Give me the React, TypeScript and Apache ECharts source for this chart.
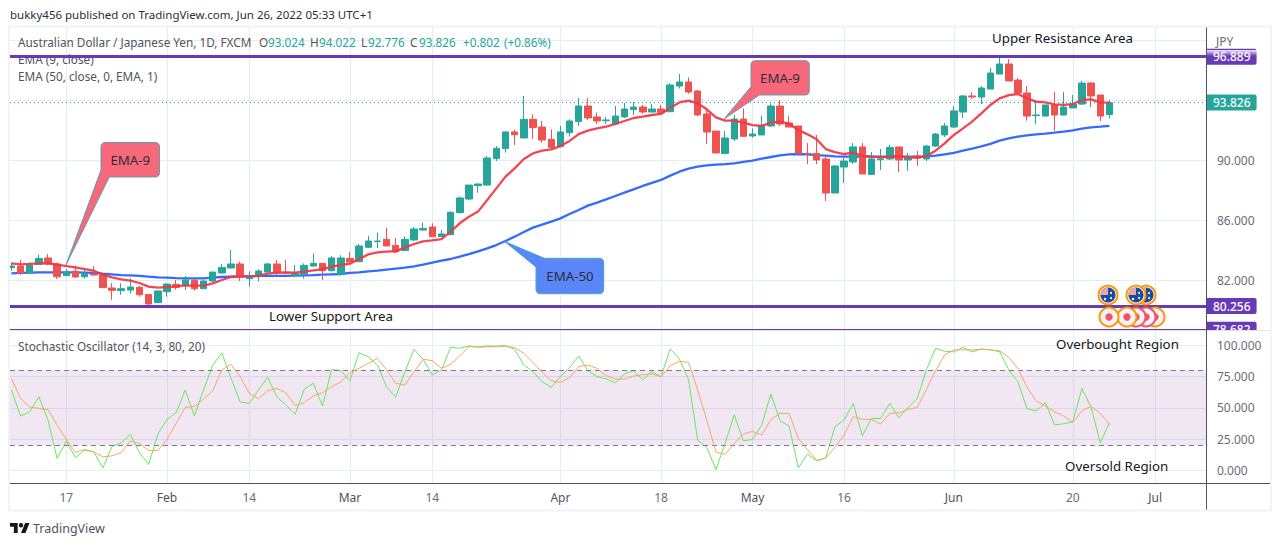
import React, { useEffect, useRef } from "react";
import * as echarts from "echarts";

const FONT = "'Noto Sans', sans-serif";
const UP = "#26a69a";
const DOWN = "#ef5350";
const PURPLE = "#673ab7";

// trading-day index of each time-axis label
const tickIndex = [6, 17, 26, 37, 46, 60, 71, 81, 91, 103, 116, 125];
const tickLabels = ["17", "Feb", "14", "Mar", "14", "Apr", "18", "May", "16", "Jun", "20", "Jul"];
const monthLabels = ["Feb", "Mar", "Apr", "May", "Jun", "Jul"];

const priceGrid = [82, 86, 90, 94, 98];
const priceLabels = [82, 86, 90];
const stochTicks = [0, 25, 50, 75, 100];

const upperLevel = 96.889;
const lowerLevel = 80.256;
const bottomLevel = 78.682;
const lastPrice = 93.826;

// open, close, low, high
const candles = [
  [82.82, 82.93, 82.62, 83.16], [82.93, 82.47, 82.33, 83.33], [82.47, 83.0, 82.47, 83.18], [83.04, 83.44, 83.04, 83.69], [83.47, 83.07, 83.0, 83.73],
  [83.07, 82.22, 82.07, 83.16], [82.29, 82.53, 82.27, 82.73], [82.58, 82.2, 82.16, 82.93], [82.22, 82.42, 82.09, 82.76], [82.4, 82.33, 82.31, 82.93],
  [82.33, 81.49, 81.49, 82.38], [81.47, 81.31, 80.67, 81.78], [81.29, 81.42, 81.02, 81.78], [81.33, 81.53, 81.09, 82.11], [81.51, 81.02, 80.89, 81.6],
  [81.04, 80.4, 80.36, 81.04], [80.49, 81.27, 80.49, 81.27], [81.22, 81.73, 80.89, 81.78], [81.71, 81.51, 81.36, 82.0], [81.64, 82.0, 81.33, 82.27],
  [81.98, 81.42, 81.29, 82.11], [81.42, 81.93, 81.4, 81.98], [81.93, 82.53, 81.84, 82.53], [82.47, 82.84, 82.44, 83.07], [82.8, 83.07, 82.78, 84.0],
  [83.07, 82.22, 81.93, 83.22], [82.09, 82.22, 81.56, 82.58], [82.22, 82.6, 81.89, 82.71], [82.53, 83.07, 82.51, 83.13], [83.07, 82.47, 82.33, 83.33],
  [82.51, 82.47, 82.4, 83.33], [82.29, 82.44, 82.29, 83.0], [82.4, 82.98, 82.09, 83.11], [82.93, 83.11, 82.91, 83.78], [83.11, 82.62, 82.0, 83.11],
  [82.62, 83.47, 82.58, 83.6], [82.36, 83.47, 82.33, 83.64], [83.44, 83.2, 83.2, 83.87], [83.22, 84.27, 83.22, 84.4], [84.18, 84.6, 84.13, 84.93],
  [84.56, 84.6, 84.13, 85.16], [84.71, 84.27, 84.27, 85.47], [84.31, 83.87, 83.82, 84.8], [83.96, 84.71, 83.93, 84.89], [84.67, 85.4, 84.6, 85.53],
  [85.33, 85.44, 85.29, 85.84], [85.53, 84.89, 84.89, 85.78], [84.89, 85.07, 84.89, 85.33], [85.02, 86.51, 85.02, 86.58], [86.49, 87.47, 86.44, 87.56],
  [87.4, 88.33, 87.33, 88.33], [88.29, 88.4, 87.82, 88.44], [88.33, 90.13, 88.31, 90.27], [90.09, 90.78, 89.93, 90.93], [90.76, 91.87, 90.49, 91.91],
  [91.87, 91.69, 91.0, 92.02], [91.47, 92.71, 91.47, 94.27], [92.71, 92.16, 91.4, 93.04], [92.2, 91.33, 91.16, 92.6], [91.38, 90.84, 90.67, 92.04],
  [90.89, 91.87, 90.84, 92.27], [91.82, 92.6, 91.56, 92.71], [92.56, 93.6, 92.27, 94.13], [93.6, 92.8, 92.67, 94.13], [92.87, 92.6, 92.4, 93.16],
  [92.62, 92.67, 92.4, 92.87], [92.4, 92.93, 92.33, 93.6], [92.87, 93.4, 92.8, 93.8], [93.36, 93.53, 93.0, 93.87], [93.53, 93.2, 93.07, 93.67],
  [93.2, 93.4, 93.18, 93.73], [93.4, 93.16, 93.11, 93.67], [93.22, 95.0, 93.2, 95.11], [94.93, 95.2, 94.76, 95.73], [95.2, 94.53, 94.42, 95.51],
  [94.6, 93.0, 92.93, 94.67], [93.07, 91.87, 91.07, 93.33], [91.93, 90.47, 90.47, 91.93], [90.44, 91.47, 90.38, 91.93], [91.4, 92.73, 91.27, 93.0],
  [92.73, 91.58, 91.56, 93.44], [91.6, 91.73, 91.49, 92.11], [91.67, 92.31, 91.67, 92.96], [92.27, 93.6, 92.2, 93.78], [93.6, 92.4, 92.27, 94.0],
  [92.47, 92.2, 92.18, 92.96], [92.27, 90.44, 90.44, 92.27], [90.44, 90.4, 89.73, 91.13], [90.44, 90.0, 89.73, 91.67], [90.07, 87.8, 87.27, 90.27],
  [87.8, 89.6, 87.8, 89.67], [89.53, 89.93, 88.47, 90.13], [89.87, 90.87, 89.73, 91.13], [90.87, 89.07, 89.07, 91.13], [89.04, 90.07, 89.0, 90.53],
  [90.02, 90.07, 89.33, 90.73], [90.07, 90.84, 90.0, 91.0], [90.87, 90.0, 89.2, 90.87], [90.0, 90.22, 89.27, 90.47], [90.27, 90.13, 89.6, 90.6],
  [90.07, 90.93, 89.93, 91.0], [90.93, 91.73, 90.87, 91.8], [91.67, 92.27, 91.53, 92.47], [92.2, 93.27, 92.13, 93.6], [93.2, 94.27, 92.8, 94.33],
  [94.27, 94.2, 94.07, 94.53], [94.2, 94.8, 93.73, 94.93], [94.73, 95.8, 94.73, 96.13], [95.73, 96.4, 95.73, 96.87], [96.4, 95.27, 95.27, 96.73],
  [95.33, 94.47, 94.4, 95.47], [94.47, 92.93, 92.62, 94.93], [92.96, 93.0, 92.4, 94.0], [92.93, 93.67, 92.93, 93.67], [93.67, 93.0, 91.93, 94.53],
  [93.0, 93.53, 92.98, 94.53], [93.47, 93.73, 93.47, 94.33], [93.73, 95.13, 93.67, 95.27], [95.13, 94.27, 93.53, 95.2], [94.33, 92.93, 92.6, 94.33],
  [93.024, 93.826, 92.776, 94.022],
];

const ema9 = [
  83.11, 83.04, 83.07, 83.11, 83.11, 83.02, 82.93, 82.84, 82.73, 82.62,
  82.36, 82.18, 82.04, 81.96, 81.8, 81.56, 81.49, 81.53, 81.58, 81.64,
  81.62, 81.62, 81.78, 82.0, 82.2, 82.24, 82.24, 82.29, 82.42, 82.49,
  82.51, 82.49, 82.56, 82.64, 82.71, 82.89, 83.0, 83.09, 83.4, 83.71,
  83.84, 83.89, 83.93, 84.16, 84.4, 84.58, 84.64, 84.73, 85.22, 85.78,
  86.22, 86.56, 87.33, 88.11, 88.89, 89.44, 90.07, 90.44, 90.62, 90.71,
  90.93, 91.27, 91.73, 91.96, 92.11, 92.22, 92.4, 92.6, 92.8, 92.89,
  93.0, 93.07, 93.49, 93.84, 93.96, 93.78, 93.38, 92.84, 92.62, 92.62,
  92.49, 92.33, 92.27, 92.49, 92.56, 92.42, 92.0, 91.71, 91.38, 90.73,
  90.53, 90.4, 90.49, 90.27, 90.22, 90.18, 90.22, 90.24, 90.18, 90.16,
  90.27, 90.62, 91.11, 91.67, 92.11, 92.56, 93.11, 93.67, 94.11, 94.33,
  94.4, 94.11, 93.89, 93.84, 93.71, 93.67, 93.73, 94.0, 94.04, 93.84,
  93.82,
];

const ema50 = [
  82.44, 82.47, 82.49, 82.51, 82.51, 82.51, 82.51, 82.51, 82.49, 82.47,
  82.42, 82.38, 82.33, 82.31, 82.27, 82.22, 82.18, 82.16, 82.13, 82.11,
  82.11, 82.11, 82.16, 82.2, 82.22, 82.24, 82.24, 82.27, 82.27, 82.27,
  82.27, 82.29, 82.31, 82.33, 82.36, 82.38, 82.4, 82.47, 82.51, 82.58,
  82.62, 82.69, 82.76, 82.82, 82.91, 83.02, 83.16, 83.29, 83.4, 83.56,
  83.73, 83.91, 84.11, 84.33, 84.6, 84.89, 85.2, 85.49, 85.69, 85.89,
  86.11, 86.4, 86.67, 86.96, 87.16, 87.38, 87.6, 87.82, 88.04, 88.27,
  88.47, 88.67, 88.96, 89.22, 89.42, 89.56, 89.64, 89.69, 89.73, 89.78,
  89.87, 89.96, 90.09, 90.2, 90.31, 90.38, 90.4, 90.38, 90.33, 90.29,
  90.24, 90.22, 90.22, 90.22, 90.22, 90.22, 90.22, 90.22, 90.22, 90.22,
  90.24, 90.29, 90.38, 90.47, 90.62, 90.76, 90.91, 91.07, 91.29, 91.44,
  91.56, 91.64, 91.71, 91.76, 91.82, 91.89, 91.98, 92.09, 92.18, 92.22,
  92.27,
];

const stochK = [
  64.3, 43.5, 46.9, 58.9, 40.3, 9.6, 23.5, 10.1, 16.3, 14.9,
  2.1, 19.2, 22.1, 28.8, 14.1, 4.8, 28.8, 40.8, 46.1, 64.3,
  43.5, 64.3, 84.0, 93.9, 73.6, 54.7, 53.6, 64.3, 74.4, 58.9,
  52.3, 44.8, 64.8, 69.6, 51.5, 80.8, 79.7, 71.7, 94.1, 90.9,
  84.3, 66.9, 58.4, 78.9, 96.8, 88.8, 76.3, 80.3, 98.4, 97.6,
  99.5, 98.4, 99.5, 99.2, 99.7, 96.8, 84.3, 78.9, 70.9, 66.4,
  74.9, 82.1, 91.5, 79.7, 74.9, 73.3, 69.9, 77.1, 79.7, 72.3,
  78.9, 74.9, 97.1, 89.1, 72.8, 24.3, 18.4, 0.8, 21.6, 44.5,
  23.7, 24.8, 36.3, 61.1, 39.7, 35.5, 2.1, 13.1, 7.7, 9.9,
  34.9, 40.3, 53.6, 27.7, 41.6, 41.6, 53.6, 42.1, 50.4, 57.6,
  80.3, 97.6, 95.2, 94.7, 98.4, 94.7, 97.1, 96.3, 94.9, 80.3,
  70.9, 49.3, 47.5, 54.1, 36.5, 37.3, 38.9, 65.6, 50.4, 22.1,
  38.1,
];

const stochD = [
  73.6, 57.6, 50.7, 49.6, 48.5, 36.3, 24.8, 14.4, 16.8, 14.9,
  10.9, 11.7, 14.4, 23.5, 21.6, 16.0, 16.0, 24.8, 37.6, 50.4,
  51.2, 57.1, 63.5, 80.3, 84.8, 74.9, 61.6, 57.3, 63.7, 65.6,
  62.1, 52.0, 54.1, 59.7, 62.1, 66.9, 70.7, 78.1, 81.6, 85.6,
  89.6, 80.3, 69.6, 68.3, 78.9, 88.8, 87.7, 81.6, 84.8, 91.5,
  98.9, 98.7, 98.7, 98.9, 99.2, 98.1, 93.6, 86.4, 78.4, 71.7,
  70.4, 74.1, 82.9, 84.3, 81.6, 75.7, 72.8, 73.1, 75.5, 76.5,
  77.1, 74.9, 83.7, 87.2, 86.4, 64.3, 40.3, 14.7, 12.8, 21.6,
  29.3, 31.2, 28.3, 40.8, 45.6, 45.6, 25.6, 16.8, 8.3, 9.9,
  18.4, 28.3, 42.9, 40.8, 40.8, 37.1, 45.6, 46.1, 48.8, 50.4,
  64.8, 79.7, 92.3, 96.3, 96.3, 96.3, 96.8, 96.3, 95.7, 90.4,
  81.6, 66.4, 55.7, 51.5, 46.9, 43.5, 38.4, 47.7, 51.2, 45.6,
  36.8,
];

const idx = (a: number[]) => a.map((v, i) => [i, v]);

const CALLOUT_A = "M101,147 Q101,142.5 105.5,142.5 L155,142.5 Q159.5,142.5 159.5,147 L159.5,172.5 Q159.5,177 155,177 L109.3,177 L66,265 L101,170 Z";
const CALLOUT_B = "M751,65 Q751,60.7 755.5,60.7 L805,60.7 Q809.3,60.7 809.3,65 L809.3,90.5 Q809.3,95 805,95 L759.3,95 L724,119 L751,86.7 Z";
const CALLOUT_C = "M536,267 L505,241.7 L544.3,258.3 L599,258.3 Q603.7,258.3 603.7,263 L603.7,289 Q603.7,293.7 599,293.7 L540.5,293.7 Q536,293.7 536,289 Z";
const TV_LOGO = "M14 22H7V11H0V4h14v18z M28 22h-8l7.5-18h8L28 22z M24 8a4 4 0 1 1-8 0a4 4 0 1 1 8 0z";

function text(t: string, x: number, y: number, fontSize: number, fill: string, extra: any = {}) {
  return {
    type: "text",
    z: extra.z ?? 1,
    x,
    y,
    silent: true,
    style: { text: t, fontSize, fontFamily: FONT, fill, verticalAlign: "middle", textAlign: extra.align ?? "left" },
  };
}

function flag(cx: number, cy: number, z: number) {
  return [
    { type: "circle", z, shape: { cx, cy, r: 9.5 }, style: { fill: "#f0f3fa", stroke: "#ff9800", lineWidth: 2 } },
    { type: "circle", z, shape: { cx, cy, r: 7.5 }, style: { fill: "#1e4a9c" } },
    { type: "sector", z, shape: { cx, cy, r: 7.5, r0: 0, startAngle: Math.PI, endAngle: Math.PI * 1.5 }, style: { fill: "#e6a6b0" } },
    { type: "circle", z, shape: { cx: cx + 3, cy: cy - 2, r: 1 }, style: { fill: "#fff" } },
    { type: "circle", z, shape: { cx: cx + 3, cy: cy + 3, r: 1 }, style: { fill: "#fff" } },
    { type: "circle", z, shape: { cx: cx - 3, cy: cy + 4, r: 1.2 }, style: { fill: "#fff" } },
  ];
}

function dot(cx: number, cy: number, ring: string, z: number) {
  return [
    { type: "circle", z, shape: { cx, cy, r: 9.5 }, style: { fill: "#f0f3fa", stroke: ring, lineWidth: 2 } },
    { type: "circle", z, shape: { cx, cy, r: 3.7 }, style: { fill: "#f7525f" } },
  ];
}

function levelLine(value: number, color: string, width: number, type: any, tag: any) {
  return {
    yAxis: value,
    lineStyle: { color, width, type, opacity: 1 },
    label: {
      show: true,
      position: "end",
      distance: 0,
      formatter: value.toFixed(3),
      backgroundColor: tag,
      color: "#fff",
      fontFamily: FONT,
      fontSize: 12,
      fontWeight: 500,
      padding: [2, 6, 2, 7],
      borderRadius: [0, 2, 2, 0],
    },
  };
}

export default function App() {
  const ref = useRef<HTMLDivElement>(null);

  useEffect(() => {
    document.body.style.margin = "0";
    echarts.graphic.registerShape("calloutA", echarts.graphic.extendPath(CALLOUT_A, {}));
    echarts.graphic.registerShape("calloutB", echarts.graphic.extendPath(CALLOUT_B, {}));
    echarts.graphic.registerShape("calloutC", echarts.graphic.extendPath(CALLOUT_C, {}));
    echarts.graphic.registerShape("tvLogo", echarts.graphic.extendPath(TV_LOGO, {}));

    const chart = echarts.init(ref.current!, null, { renderer: "svg" });
    const gridLine = { show: true, lineStyle: { color: "#e4edf4", width: 1 } };
    const xMin = (10 - 11.4) / 9.15;
    const xMax = (1206 - 11.4) / 9.15;
    const red = "#f7697a";
    const redEdge = "#5f9fb0";
    const blue = "#5b86f7";
    const blueEdge = "#42a5c8";

    const option: any = {
      animation: false,
      backgroundColor: "#ffffff",
      grid: [
        { left: 10, top: 27, width: 1196, height: 303 },
        { left: 10, top: 330, width: 1196, height: 153.5 },
      ],
      xAxis: [
        {
          type: "value", gridIndex: 0, min: xMin, max: xMax,
          axisLine: { show: false },
          axisTick: { show: false, customValues: tickIndex },
          axisLabel: { show: false, customValues: tickIndex },
          splitLine: gridLine,
        },
        {
          type: "value", gridIndex: 1, min: xMin, max: xMax,
          axisLine: { show: true, onZero: false, lineStyle: { color: "#50535e", width: 1 } },
          axisTick: { show: false, customValues: tickIndex },
          axisLabel: {
            show: true, customValues: tickIndex, margin: 8, fontFamily: FONT, fontSize: 12,
            hideOverlap: false, showMinLabel: true, showMaxLabel: true,
            formatter: (v: number) => tickLabels[tickIndex.indexOf(v)] ?? "",
            color: (v: any) => (monthLabels.includes(tickLabels[tickIndex.indexOf(Number(v))]) ? "#50535e" : "#6a6d78"),
          },
          splitLine: gridLine,
        },
      ],
      yAxis: [
        {
          type: "value", gridIndex: 0, position: "right", min: 78.667, max: 98.867,
          axisLine: { show: true, onZero: false, lineStyle: { color: "#50535e", width: 1 } },
          axisTick: { show: false, customValues: priceGrid },
          axisLabel: { show: true, customValues: priceLabels, margin: 11, color: "#6a6d78", fontFamily: FONT, fontSize: 12, formatter: (v: number) => v.toFixed(3) },
          splitLine: gridLine,
        },
        {
          type: "value", gridIndex: 1, position: "right", min: -10.38, max: 112.2,
          axisLine: { show: true, onZero: false, lineStyle: { color: "#50535e", width: 1 } },
          axisTick: { show: false, customValues: stochTicks },
          axisLabel: { show: true, customValues: stochTicks, margin: 11, color: "#6a6d78", fontFamily: FONT, fontSize: 12, formatter: (v: number) => v.toFixed(3) },
          splitLine: gridLine,
        },
      ],
      series: [
        {
          type: "line", name: "EMA 50", xAxisIndex: 0, yAxisIndex: 0, z: 3, showSymbol: false, silent: true,
          data: idx(ema50), lineStyle: { color: "#2962ff", width: 2.3, opacity: 0.95 },
        },
        {
          type: "candlestick", name: "AUD/JPY", xAxisIndex: 0, yAxisIndex: 0, z: 4, silent: true, barWidth: 7,
          data: candles.map((c, i) => [i, c[0], c[1], c[2], c[3]]),
          itemStyle: { color: UP, color0: DOWN, borderColor: UP, borderColor0: DOWN, borderWidth: 1 },
          markLine: {
            silent: true, symbol: "none", animation: false, z: 5,
            data: [
              levelLine(lastPrice, UP, 1, [1, 3], UP),
              levelLine(upperLevel, PURPLE, 3, "solid", PURPLE),
              levelLine(lowerLevel, PURPLE, 3, "solid", PURPLE),
              levelLine(bottomLevel, PURPLE, 2, "solid", PURPLE),
            ],
          },
        },
        {
          type: "line", name: "EMA 9", xAxisIndex: 0, yAxisIndex: 0, z: 6, showSymbol: false, silent: true,
          data: idx(ema9), lineStyle: { color: "#f23645", width: 2.3, opacity: 0.92 },
        },
        {
          type: "line", name: "%K", xAxisIndex: 1, yAxisIndex: 1, z: 4, showSymbol: false, silent: true,
          data: idx(stochK), lineStyle: { color: "#66e85c", width: 1 },
          markArea: {
            silent: true,
            itemStyle: { color: "rgba(126,40,150,0.11)" },
            data: [[{ yAxis: 80 }, { yAxis: 20 }]],
          },
          markLine: {
            silent: true, symbol: "none", animation: false, label: { show: false },
            lineStyle: { color: "#787b86", width: 1, type: [5, 4], opacity: 1 },
            data: [{ yAxis: 80 }, { yAxis: 20 }],
          },
        },
        {
          type: "line", name: "%D", xAxisIndex: 1, yAxisIndex: 1, z: 5, showSymbol: false, silent: true,
          data: idx(stochD), lineStyle: { color: "#f7a563", width: 1 },
        },
      ],
      graphic: [
        text("bukky456 published on TradingView.com, Jun 26, 2022 05:33 UTC+1", 10, 14.5, 11.5, "#2a2e39"),
        text("Australian Dollar / Japanese Yen, 1D, FXCM", 18, 42, 11.75, "#50535e"),
        text("O", 259, 42, 11.75, "#50535e"), text("93.024", 268, 42, 11.75, UP),
        text("H", 310, 42, 11.75, "#50535e"), text("94.022", 319, 42, 11.75, UP),
        text("L", 361, 42, 11.75, "#50535e"), text("92.776", 368, 42, 11.75, UP),
        text("C", 410, 42, 11.75, "#50535e"), text("93.826", 419, 42, 11.75, UP),
        text("+0.802", 463, 42, 11.75, UP), text("(+0.86%)", 504, 42, 11.75, UP),
        text("EMA (9, close)", 18, 59, 11.75, "#50535e"),
        text("EMA (50, close, 0, EMA, 1)", 18, 76, 11.75, "#50535e"),
        text("Stochastic Oscillator (14, 3, 80, 20)", 18, 346, 11.75, "#50535e"),
        text("JPY", 1216, 41, 12, "#6a6d78"),
        text("Upper Resistance Area", 992, 38, 13.3, "#131722", { z: 20 }),
        text("Lower Support Area", 269, 316, 13.3, "#131722", { z: 20 }),
        text("Overbought Region", 1056, 344, 13.3, "#131722", { z: 20 }),
        text("Oversold Region", 1065, 466, 13.3, "#131722", { z: 20 }),
        { type: "rect", z: 50, shape: { x: 1207, y: 330.5, width: 70, height: 8 }, style: { fill: "#ffffff" } },
        { type: "line", z: 51, shape: { x1: 10, y1: 330.5, x2: 1270, y2: 330.5 }, style: { stroke: "#e0e3eb", lineWidth: 1 } },
        { type: "line", z: 51, shape: { x1: 1206.5, y1: 27, x2: 1206.5, y2: 511 }, style: { stroke: "#50535e", lineWidth: 1 } },
        { type: "line", z: 51, shape: { x1: 10, y1: 483.5, x2: 1270, y2: 483.5 }, style: { stroke: "#50535e", lineWidth: 1 } },
        { type: "rect", z: 52, shape: { x: 9, y: 26.5, width: 1262, height: 484 }, style: { fill: "none", stroke: "#f0f3fa", lineWidth: 2 } },
        {
          type: "rect", z: 53, shape: { x: 1207, y: 50, width: 51, height: 6 },
          style: { fill: new echarts.graphic.LinearGradient(0, 0, 0, 1, [{ offset: 0, color: "rgba(255,255,255,0.9)" }, { offset: 1, color: "rgba(255,255,255,0)" }]) },
        },
        { type: "calloutA", z: 60, x: 0, y: 0, style: { fill: red, stroke: redEdge, lineWidth: 1 } },
        { type: "calloutB", z: 60, x: 0, y: 0, style: { fill: red, stroke: redEdge, lineWidth: 1 } },
        { type: "calloutC", z: 60, x: 0, y: 0, style: { fill: blue, stroke: blueEdge, lineWidth: 1 } },
        text("EMA-9", 130.3, 159.5, 13.3, "#2a2e39", { z: 61, align: "center" }),
        text("EMA-9", 780, 78, 13.3, "#2a2e39", { z: 61, align: "center" }),
        text("EMA-50", 570, 275.5, 13.3, "#2a2e39", { z: 61, align: "center" }),
        ...dot(1155, 317, "#ff9800", 70),
        ...dot(1146, 317, "#f7525f", 71),
        ...dot(1136, 317, "#f7525f", 72),
        ...dot(1127, 317, "#ff9800", 73),
        ...dot(1109, 317, "#ff9800", 74),
        ...flag(1146, 295, 70),
        ...flag(1136, 295, 71),
        ...flag(1108, 295, 72),
        { type: "tvLogo", z: 80, x: 10, y: 520.8, scaleX: 0.55, scaleY: 0.55, style: { fill: "#131722" } },
        text("TradingView", 33, 528, 12.5, "#50535e"),
      ],
    };
    chart.setOption(option);
    return () => chart.dispose();
  }, []);

  return <div ref={ref} style={{ position: "fixed", left: 0, top: 0, width: 1280, height: 546 }} />;
}
